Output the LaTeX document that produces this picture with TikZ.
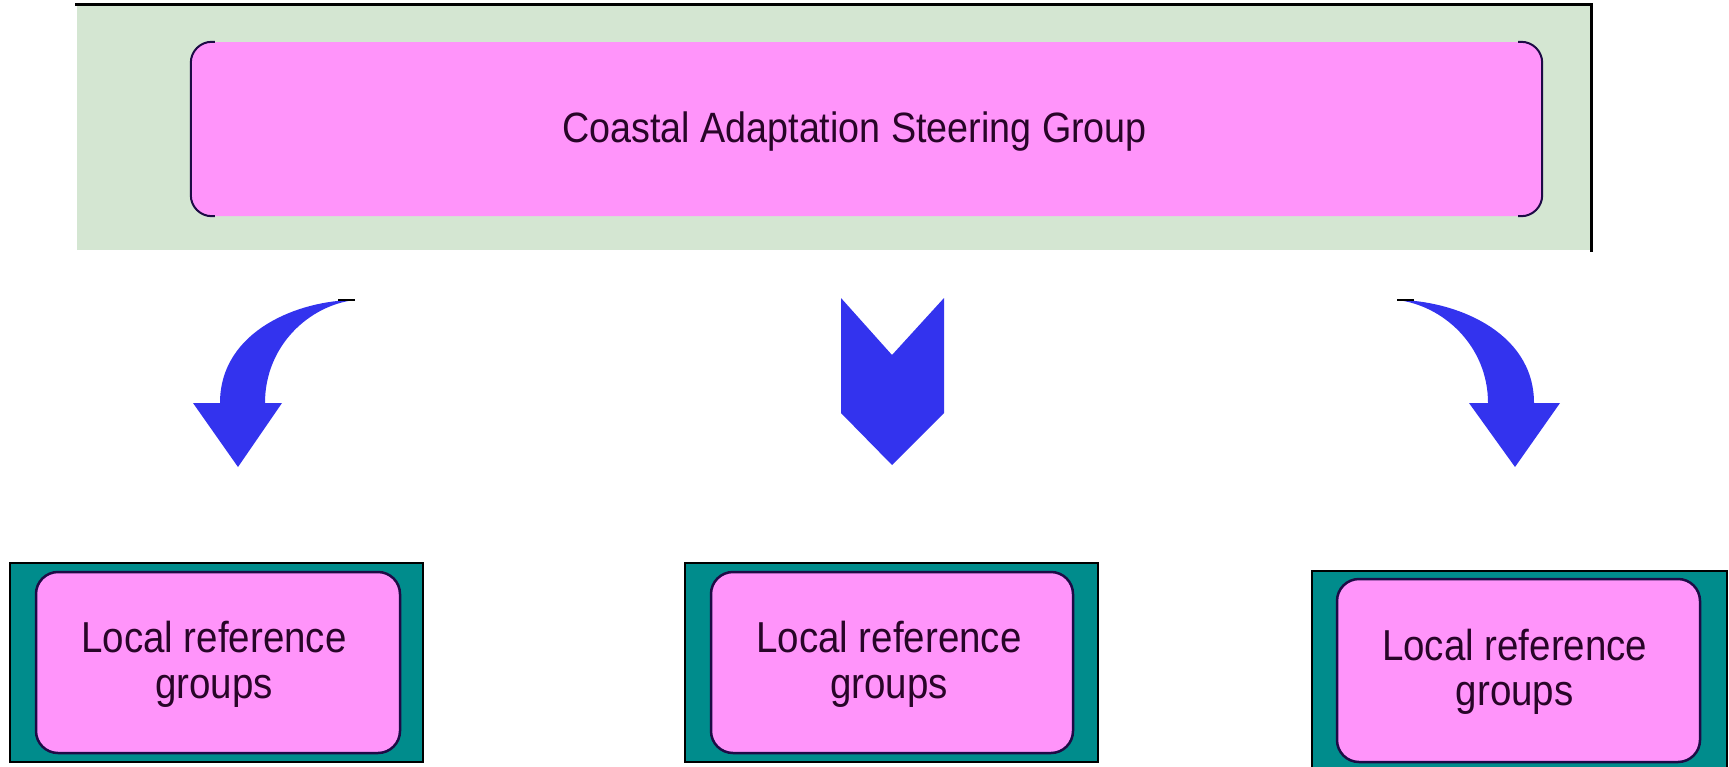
\documentclass[tikz,border=0pt]{standalone}
\usepackage{fontspec}
\usepackage{graphicx}
\setmainfont{Liberation Sans}
\definecolor{panelgreen}{RGB}{212,230,210}
\definecolor{boxpink}{RGB}{255,148,250}
\definecolor{teal}{RGB}{0,140,140}
\definecolor{edgenavy}{RGB}{30,10,70}
\definecolor{inkpurple}{RGB}{40,5,40}
\definecolor{arrowblue}{RGB}{51,51,238}
% tall, slightly narrow lettering
\newcommand{\tallword}[1]{\scalebox{1}[1.125]{#1}}
\newcommand{\twolines}[2]{\tallword{\fontsize{38.5}{40.5}\selectfont
  \begin{tabular}{@{}c@{}}#1\\#2\end{tabular}}}
\tikzset{
  panel/.style={fill=panelgreen, inner sep=0pt, minimum width=1514pt, minimum height=245pt},
  headbox/.style={fill=boxpink, rounded corners=20pt, inner sep=0pt,
    minimum width=1351pt, minimum height=174pt},
  frame/.style={fill=teal, draw=black, line width=2pt, inner sep=0pt},
  localbox/.style={fill=boxpink, draw=edgenavy, line width=2.5pt, rounded corners=22pt,
    inner sep=0pt},
  label/.style={inner sep=0pt, text=inkpurple},
  blockarrow/.style={fill=arrowblue, draw=none},
  stub/.style={draw=black, line width=1.5pt}
}
\begin{document}
\begin{tikzpicture}[x=1pt,y=-1pt]
\useasboundingbox (0,0) rectangle (1729,766);

% steering group panel
\node[panel] (ctx) at (834,127.5) {};
\draw[line width=3pt, line cap=rect] (ctx.north west) -- (ctx.north east) -- (ctx.south east);
\node[headbox] (csg) at (866.5,129) {};
\draw[edgenavy, line width=2pt, rounded corners=21pt]
  ([xshift=24pt]csg.north west) -- (csg.north west) -- (csg.south west) -- ([xshift=24pt]csg.south west);
\draw[edgenavy, line width=2pt, rounded corners=21pt]
  ([xshift=-24pt]csg.north east) -- (csg.north east) -- (csg.south east) -- ([xshift=-24pt]csg.south east);
\node[label, anchor=base] (csgtext) at (854.6,142)
  {\tallword{\fontsize{37.7}{42}\selectfont Coastal Adaptation Steering Group}};

% local reference groups
\node[frame, minimum width=413pt, minimum height=199pt] (f1) at (216.5,662.5) {};
\node[localbox, minimum width=364pt, minimum height=181pt] (g1) at (218,662.5) {};
\node[label] (t1) at (214,666.4) {\twolines{Local reference}{groups}};
\node[frame, minimum width=413pt, minimum height=199pt] (f2) at (891.5,662.5) {};
\node[localbox, minimum width=362pt, minimum height=181pt] (g2) at (892,662.5) {};
\node[label] (t2) at (889,666.4) {\twolines{Local reference}{groups}};
\node[frame, minimum width=415pt, minimum height=209pt] (f3) at (1519.5,675.5) {};
\node[localbox, minimum width=363pt, minimum height=183pt] (g3) at (1518.5,670.5) {};
\node[label] (t3) at (1514.7,673.9) {\twolines{Local reference}{groups}};

% curved arrow to the left
\coordinate (la) at (355,300);
\fill[blockarrow] (la) .. controls (300,300) and (220,330) .. (220,403)
  -- (193,403) -- (238,467) -- (282,403) -- (265,403)
  .. controls (265,345) and (310,305) .. (la) -- cycle;
\draw[stub] (338,300) -- (la);
% straight chevron arrow
\coordinate (ca) at (892,355);
\fill[blockarrow] (841,298) -- (ca) -- (944,298) -- (944,413) -- (892,465) -- (841,413) -- cycle;
% curved arrow to the right
\coordinate (ra) at (1397,300);
\fill[blockarrow] (ra) .. controls (1452,300) and (1534,330) .. (1534,403)
  -- (1560,403) -- (1515,467) -- (1469,403) -- (1488,403)
  .. controls (1488,345) and (1442,305) .. (ra) -- cycle;
\draw[stub] (ra) -- (1414,300);
\end{tikzpicture}
\end{document}
